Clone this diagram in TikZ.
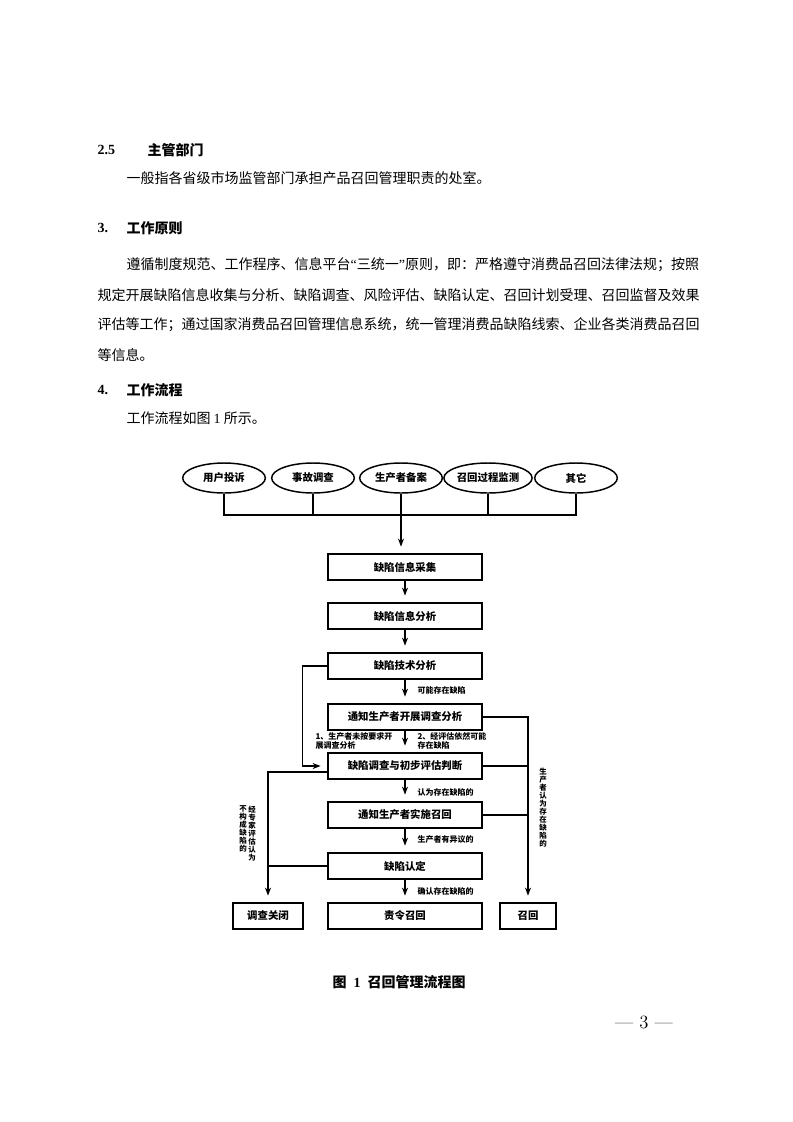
\documentclass[tikz,border=0pt]{standalone}
\usepackage{fontspec}
\newfontfamily\cjk{Noto Sans CJK SC}
\newfontfamily\tnr{Liberation Serif}
\usetikzlibrary{shapes.geometric,arrows.meta,calc}
\XeTeXlinebreaklocale "zh"
\XeTeXlinebreakskip=0pt plus 1pt minus 0.5pt

\tikzset{
  box/.style={draw, line width=1.1pt, minimum width=115.5pt, minimum height=19.5pt,
    inner sep=0pt, font=\cjk\bfseries\fontsize{7.8}{9}\selectfont},
  oval/.style={draw, ellipse, line width=1.1pt, minimum width=62pt, minimum height=22.5pt,
    inner sep=0pt, font=\cjk\bfseries\fontsize{7.8}{9}\selectfont},
  arr/.style={-{Stealth[length=6pt,width=4.5pt]}, shorten >=5pt},
  lbl/.style={anchor=west, inner sep=0pt, align=left, font=\cjk\bfseries\fontsize{6}{6.8}\selectfont},
  vlbl/.style={anchor=north, inner sep=0pt, align=center, font=\cjk\bfseries\fontsize{5.6}{6}\selectfont},
  body/.style={anchor=west, inner sep=0pt, font=\cjk\fontsize{10.5}{12}\selectfont},
  head/.style={anchor=west, inner sep=0pt, font=\bfseries\fontsize{10.5}{12}\selectfont},
}

\begin{document}
\begin{tikzpicture}[x=0.75pt, y=-0.75pt, line width=0.9pt]
        \useasboundingbox (0,0) rectangle (793,1122);

        % text of the page
        \node[head] (n25) at (97,150) {\tnr 2.5};
        \node[head] (h25) at (147,150) {\cjk 主管部门};
        \node[body] (t25) at (126,178) {一般指各省级市场监管部门承担产品召回管理职责的处室。};

        \node[head] (n3) at (97,228) {\tnr 3.};
        \node[head] (h3) at (126,228) {\cjk 工作原则};
        \node[body] (t3a) at (126,265) {\makebox[428pt][s]{遵循制度规范、工作程序、信息平台{\tnr “}三统一{\tnr ”}原则，即：严格遵守消费品召回法律法规；按照}};
        \node[body] (t3b) at (97,295) {\makebox[450pt][s]{规定开展缺陷信息收集与分析、缺陷调查、风险评估、缺陷认定、召回计划受理、召回监督及效果}};
        \node[body] (t3c) at (97,325) {\makebox[450pt][s]{评估等工作；通过国家消费品召回管理信息系统，统一管理消费品缺陷线索、企业各类消费品召回}};
        \node[body] (t3d) at (97,355) {等信息。};

        \node[head] (n4) at (97,390) {\tnr 4.};
        \node[head] (h4) at (126,390) {\cjk 工作流程};
        \node[body] (t4) at (126,418) {工作流程如图 {\tnr 1} 所示。};

        % sources
        \node[oval] (yonghu) at (224,478) {用户投诉};
        \node[oval] (shigu) at (313,478) {事故调查};
        \node[oval] (beian) at (401,478) {生产者备案};
        \node[oval] (jiance) at (488,478) {召回过程监测};
        \node[oval] (qita) at (576,478) {其它};

        \coordinate (bus) at (401,515);
        \draw (yonghu) -- (yonghu |- bus) -- (qita |- bus) -- (qita);
        \draw (shigu) -- (shigu |- bus);
        \draw (jiance) -- (jiance |- bus);

        % main column
        \node[box] (caiji) at (405,567) {缺陷信息采集};
        \node[box] (fenxi) at (405,616) {缺陷信息分析};
        \node[box] (jishu) at (405,666) {缺陷技术分析};
        \node[box] (kaizhan) at (405,717) {通知生产者开展调查分析};
        \node[box] (panduan) at (405,766) {缺陷调查与初步评估判断};
        \node[box] (shishi) at (405,815) {通知生产者实施召回};
        \node[box] (rending) at (405,866) {缺陷认定};
        \node[box] (zeling) at (405,916) {责令召回};
        \node[box, minimum width=52.5pt] (guanbi) at (268,916) {调查关闭};
        \node[box, minimum width=42pt] (zhaohui) at (528,916) {召回};

        \draw[arr] (beian) -- (beian |- caiji.north);
        \foreach \a/\b in {caiji/fenxi, fenxi/jishu, jishu/kaizhan, kaizhan/panduan,
                           panduan/shishi, shishi/rending, rending/zeling}
          \draw[arr] (\a) -- (\b);

        % side branches
        \draw[arr] (jishu.west) -- ++(-25,0) |- (panduan.west);
        \draw[arr] ($(panduan.west)+(0,6)$) -| (guanbi);
        \draw (rending.west) -- (rending.west -| guanbi);
        \draw[arr] (kaizhan.east) -| (zhaohui);
        \draw (panduan.east) -- (panduan.east -| zhaohui);
        \draw (shishi.east) -- (shishi.east -| zhaohui);

        % labels
        \node[lbl] (l1) at (417,690) {可能存在缺陷};
        \node[lbl] (l2) at (315,741) {1、生产者未按要求开\\展调查分析};
        \node[lbl] (l3) at (417,741) {2、经评估依然可能\\存在缺陷};
        \node[lbl] (l4) at (417,792) {认为存在缺陷的};
        \node[lbl] (l5) at (417,839) {生产者有异议的};
        \node[lbl] (l6) at (417,891) {确认存在缺陷的};
        \node[vlbl] (v1) at (252,805) {经\\专\\家\\评\\估\\认\\为};
        \node[vlbl] (v2) at (243,805) {不\\构\\成\\缺\\陷\\的};
        \node[vlbl] (v3) at (543,768) {生\\产\\者\\认\\为\\存\\在\\缺\\陷\\的};

        \node[anchor=west, inner sep=0pt, font=\cjk\bfseries\fontsize{10.5}{12}\selectfont] (cap) at (332,982) {图\enspace{\tnr 1}\enspace 召回管理流程图};
        \node[inner sep=0pt, font=\fontsize{14}{16}\selectfont] (pg) at (644,1022) {— 3 —};
\end{tikzpicture}
\end{document}
